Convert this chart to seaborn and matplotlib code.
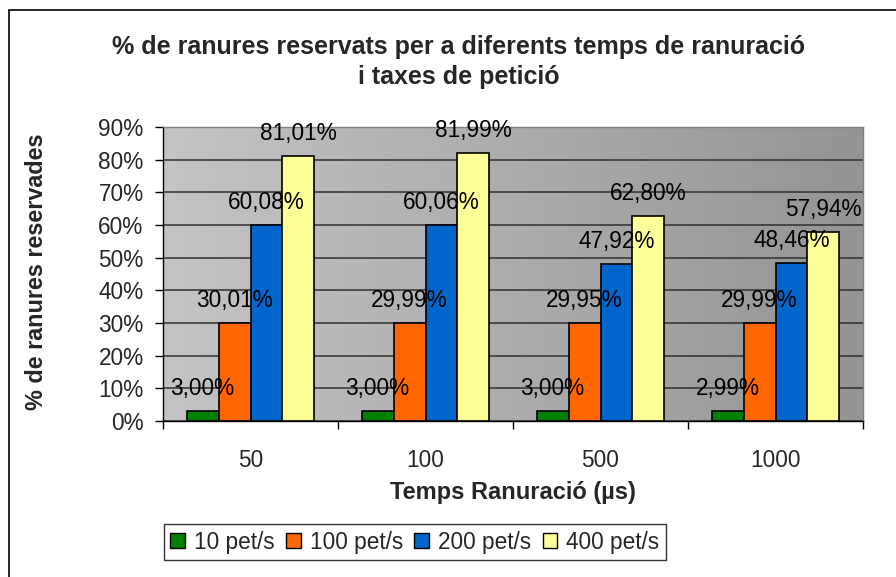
import numpy as np
import pandas as pd
import matplotlib
matplotlib.use("Agg")
import matplotlib.pyplot as plt
from matplotlib.patches import Rectangle
from matplotlib.colors import LinearSegmentedColormap
import seaborn as sns

# Slot times (µs) and request rates
temps = ["50", "100", "500", "1000"]
taxes = ["10 pet/s", "100 pet/s", "200 pet/s", "400 pet/s"]

# Percentage of reserved slots per request rate, one value per slot time
pct_10 = [3.00, 3.00, 3.00, 2.99]
pct_100 = [30.01, 29.99, 29.95, 29.99]
pct_200 = [60.08, 60.06, 47.92, 48.46]
pct_400 = [81.01, 81.99, 62.80, 57.94]

yticks = [0, 10, 20, 30, 40, 50, 60, 70, 80, 90]

colors = ["#008000", "#ff6600", "#0066cc", "#ffff99"]

rows = []
for serie, vals in zip(taxes, [pct_10, pct_100, pct_200, pct_400]):
    for t, v in zip(temps, vals):
        rows.append({"temps": t, "taxa": serie, "pct": v})
df = pd.DataFrame(rows)

sns.set_theme(style="white")
plt.rcParams["font.family"] = ["Liberation Sans", "DejaVu Sans"]

FS = 16.3

W, H = 896, 577
fig = plt.figure(figsize=(W / 100, H / 100), dpi=100)
fig.patch.set_facecolor("white")
ax = fig.add_axes([163 / W, 1 - 421 / H, 700 / W, 294 / H])

# Grey gradient behind the bars
cmap = LinearSegmentedColormap.from_list("bg", ["#c4c4c4", "#949494"])
grad = np.linspace(0, 1, 256).reshape(1, -1)
ax.imshow(grad, cmap=cmap, aspect="auto", extent=[0, 1, 0, 1],
          transform=ax.transAxes, zorder=0)

sns.barplot(data=df, x="temps", y="pct", hue="taxa", order=temps,
            hue_order=taxes, palette=colors, width=0.73, saturation=1,
            edgecolor="black", linewidth=1.2, ax=ax, zorder=2)

for cont in ax.containers:
    labels = [f"{b.get_height():.2f}".replace(".", ",") + "%" for b in cont]
    ax.bar_label(cont, labels=labels, padding=8, fontsize=FS,
                 color="black", zorder=5)

ax.set_xlim(-0.5, 3.5)
ax.set_ylim(0, 90)
ax.set_yticks(yticks)
ax.set_yticklabels([f"{v}%" for v in yticks])
ax.yaxis.grid(True, color="#303030", linewidth=1.1, zorder=1)
ax.xaxis.grid(False)
ax.set_axisbelow(True)

ax.tick_params(axis="y", which="major", direction="out", length=6,
               width=1, color="black", labelsize=FS, pad=8,
               left=True)
ax.tick_params(axis="x", which="major", length=0, labelsize=FS, pad=20)
ax.set_xticks(np.arange(-0.5, 4.0, 1.0), minor=True)
ax.tick_params(axis="x", which="minor", direction="out", length=6,
               width=1, color="black", bottom=True)

for side in ["left", "bottom"]:
    ax.spines[side].set_color("black")
    ax.spines[side].set_linewidth(1)
for side in ["top", "right"]:
    ax.spines[side].set_color("#808080")
    ax.spines[side].set_linewidth(1)

ax.set_xlabel("Temps Ranuració (µs)", fontsize=17, fontweight="bold")
ax.xaxis.set_label_coords(0.5, -0.203)
ax.set_ylabel("% de ranures reservades", fontsize=16.8, fontweight="bold")
ax.yaxis.set_label_coords(-0.164, 0.507)

fig.text(459 / W, 1 - 62 / H,
         "% de ranures reservats per a diferents temps de ranuració\ni taxes de petició",
         ha="center", va="center", fontsize=18, fontweight="bold",
         linespacing=1.3)

leg = ax.legend(loc="center", bbox_to_anchor=(415 / W, 1 - 542 / H),
                bbox_transform=fig.transFigure, ncol=4, frameon=True,
                fancybox=False, fontsize=FS, handlelength=0.65,
                handleheight=0.65, handletextpad=0.4, columnspacing=0.5,
                borderpad=0.3, borderaxespad=0)
leg.get_frame().set_edgecolor("black")
leg.get_frame().set_linewidth(1)
for h in leg.legend_handles:
    h.set_edgecolor("black")
    h.set_linewidth(1)

# Chart frame
fig.add_artist(Rectangle((9 / W, -0.1), 2.0, (1 - 10 / H) + 0.1,
                         transform=fig.transFigure, fill=False,
                         edgecolor="black", linewidth=1.2))

fig.savefig("out.png", dpi=100)
